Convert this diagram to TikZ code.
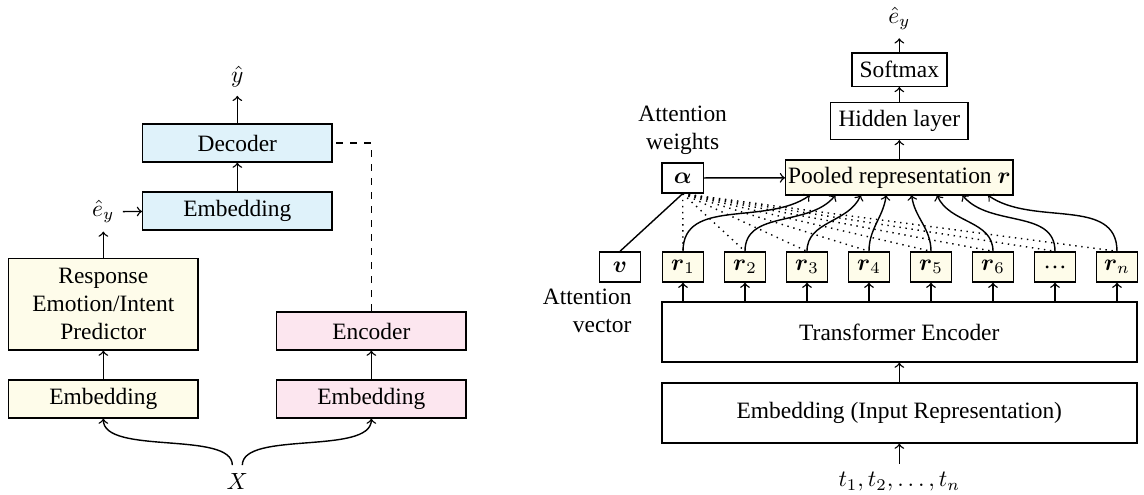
\documentclass[tikz,border=0pt]{standalone}
\usepackage{amsmath}
\usepackage{fontspec}
\setmainfont{Liberation Serif}

\definecolor{decblue}{HTML}{DFF2FA}
\definecolor{predyellow}{HTML}{FEFCEA}
\definecolor{encpink}{HTML}{FCE6EF}

\tikzset{
	block/.style = {draw, minimum width = 2.84 cm, minimum height = 0.57 cm, inner sep = 1pt},
	cell/.style = {draw, minimum width = 0.62 cm, minimum height = 0.45 cm, inner sep = 1pt},
	wide/.style = {draw, minimum width = 7.125 cm, minimum height = 0.9 cm},
}

\begin{document}
\begin{tikzpicture}[> = to, semithick]

	\useasboundingbox (0, 0) rectangle (17.16, 7.425);

	% Left: predictor, encoder and decoder
	
	\node [block, fill = decblue] (dec) at (3.56, 5.28) {Decoder};
	\node [block, fill = decblue] (embB) at (3.56, 4.26) {Embedding};
	\node (yhat) at (3.56, 6.27) {$\hat{y}$};
	\node (ehatL) at (1.55, 4.25) {$\hat{e}_y$};
	\node [block, fill = predyellow, minimum height = 1.37 cm, align = center] (resp) at (1.55, 2.86) {Response\\Emotion/Intent\\Predictor};
	\node [block, fill = predyellow] (embY) at (1.55, 1.44) {Embedding};
	\node [block, fill = encpink] (enc) at (5.57, 2.46) {Encoder};
	\node [block, fill = encpink] (embP) at (5.57, 1.44) {Embedding};
	\node (X) at (3.56, 0.2) {$X$};

	\draw [->] (dec) -- (yhat);
	\draw [->] (embB) -- (dec);
	\draw [->] (ehatL) -- (embB);
	\draw [->] (resp) -- (ehatL);
	\draw [->] (embY) -- (resp);
	\draw [->] (embP) -- (enc);
	\draw [dashed] (enc.north) |- (dec.east);
	
	% Input splits into both branches
	
	\draw [<-] (embY.south) .. controls +(0, -0.55) and +(0, 0.52) .. ([xshift = -0.075 cm] X.north);
	\draw [<-] (embP.south) .. controls +(0, -0.55) and +(0, 0.52) .. ([xshift = 0.075 cm] X.north);

	% Right: attention pooling classifier
	
	\node (eout) at (13.49, 7.15) {$\hat{e}_y$};
	\node [draw, minimum width = 1.335 cm, minimum height = 0.5 cm] (soft) at (13.49, 6.38) {Softmax};
	\node [draw, minimum width = 1.89 cm, minimum height = 0.51 cm] (hid) at (13.49, 5.61) {Hidden layer};
	\node [draw, fill = predyellow, minimum width = 3.36 cm, minimum height = 0.525 cm, inner sep = 1pt] (pool) at (13.49, 4.76) {Pooled representation $\boldsymbol{r}$};
	\node [align = center] (aw) at (10.24, 5.475) {Attention\\weights};
	\node [cell] (alpha) at (10.24, 4.755) {$\boldsymbol{\alpha}$};
	\node [cell] (v) at (9.30, 3.42) {$\boldsymbol{v}$};
	\node [align = right, anchor = east] (av) at (9.6, 2.76) {Attention\\vector};
	\node [wide] (trans) at (13.49, 2.445) {Transformer Encoder};
	\node [wide] (inp) at (13.49, 1.23) {Embedding (Input Representation)};
	\node (tok) at (13.49, 0.195) {$t_1, t_2, \ldots, t_n$};

	\draw [->] (soft) -- (eout);
	\draw [->] (hid) -- (soft);
	\draw [->] (pool) -- (hid);
	\draw [->] (alpha) -- (pool);
	\draw (alpha.south) -- (v.north);
	\draw [->] (inp) -- (trans);
	\draw [->] (tok) -- (inp);
	
	% Token representations
	
	\foreach \i/\t in {1/1, 2/2, 3/3, 4/4, 5/5, 6/6, 8/n}
		\node [cell, fill = predyellow] (r\i) at ({10.245 + 0.93 * (\i - 1)}, 3.42) {$\boldsymbol{r}_\t$};
	\node [cell, fill = predyellow] (r7) at (15.825, 3.42) {\ldots};
	
	% Weights and pooling
	
	\foreach \i/\a in {1/-145, 2/-129, 3/-114, 4/-98, 5/-82, 6/-66, 7/-50, 8/-35} {
		\coordinate (p\i) at ({12.15 + 0.381 * (\i - 1)}, 4.4975);
		\draw [->] (r\i.south |- trans.north) -- (r\i.south);
		\draw [dotted] (alpha.south) -- (r\i.north);
		\draw [->] (r\i.north) to [out = 90, in = \a] (p\i);
	}

\end{tikzpicture}
\end{document}
